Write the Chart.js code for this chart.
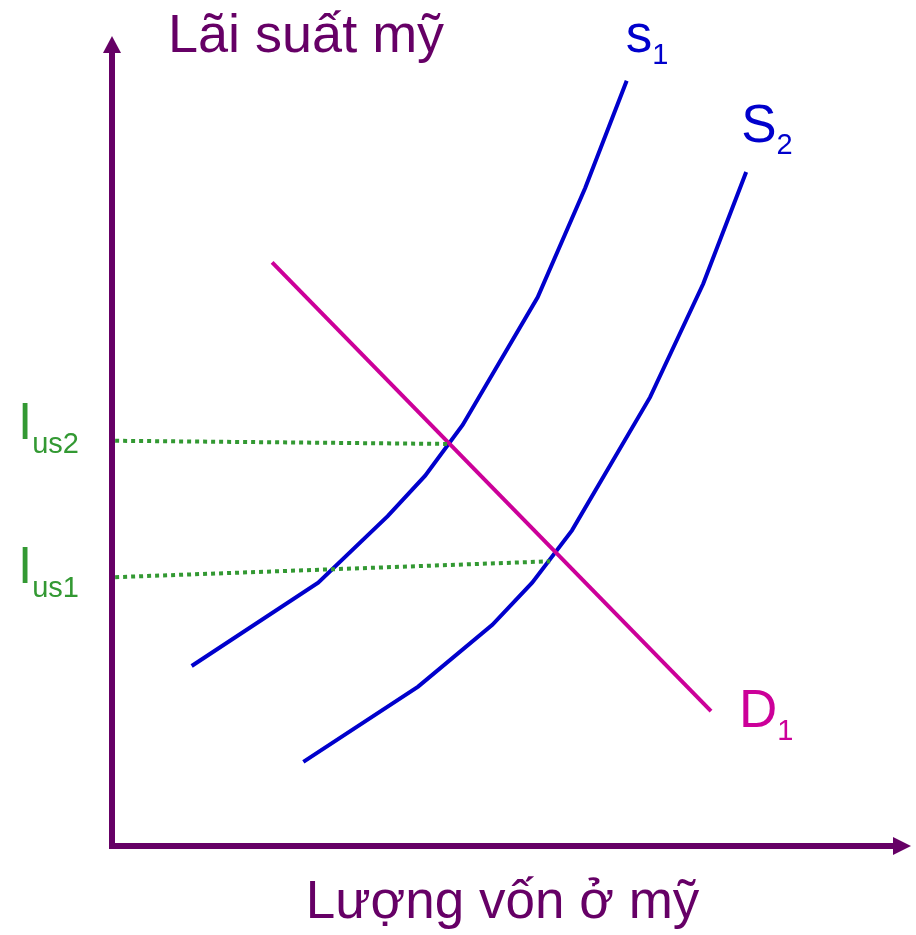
<!DOCTYPE html>
<html lang="vi">
<head>
<meta charset="utf-8">
<title>Lãi suất mỹ</title>
<script src="https://cdn.jsdelivr.net/npm/chart.js@4/dist/chart.umd.min.js"></script>
<style>
  html, body { margin: 0; padding: 0; background: #fff; }
  #wrap { width: 916px; height: 935px; }
</style>
</head>
<body>
<div id="wrap"><canvas id="chart" width="916" height="935"></canvas></div>
<script>
// values, both axes on a 0..100 scale
const s1X = [10.2, 26.4, 35.3, 40.1, 44.9, 54.5, 60.6, 65.9];
const s1Y = [22.7, 33.2, 41.6, 46.7, 53.1, 69.2, 83.0, 96.5];

const s2X = [24.5, 39.2, 48.7, 53.8, 58.9, 68.9, 75.7, 81.2];
const s2Y = [10.6, 20.1, 27.9, 33.2, 39.8, 56.6, 70.9, 85.0];

const d1X = [20.5, 76.7];
const d1Y = [73.6, 17.0];

const ius2X = [0.4, 43.1];
const ius2Y = [51.1, 50.7];
const ius1X = [0.4, 56.1];
const ius1Y = [33.9, 35.9];

const yTitle = 'Lãi suất mỹ';
const xTitle = 'Lượng vốn ở mỹ';

const PURPLE = '#660066';
const BLUE = '#0000CC';
const MAGENTA = '#CC0099';
const GREEN = '#339933';
const FONT = "'Liberation Sans', Arial, sans-serif";

function toPoints(xs, ys) {
  return xs.map((x, i) => ({ x, y: ys[i] }));
}

/**
 * Draw text with a subscript part
 */
function drawSub(ctx, main, sub, x, y, size, subSize, drop, color) {
  ctx.fillStyle = color;
  ctx.textBaseline = 'alphabetic';
  ctx.textAlign = 'left';
  ctx.font = `${size}px ${FONT}`;
  ctx.fillText(main, x, y);
  const w = ctx.measureText(main).width;
  ctx.font = `${subSize}px ${FONT}`;
  ctx.fillText(sub, x + w, y + drop);
}

// arrowheads, y title and curve labels
const annotations = {
  id: 'annotations',
  afterDraw(chart) {
    const { ctx, chartArea, scales } = chart;
    const xs = scales.x, ys = scales.y;
    const ox = xs.getPixelForValue(0);
    const oy = ys.getPixelForValue(0);
    ctx.save();

    ctx.fillStyle = PURPLE;
    ctx.beginPath();
    ctx.moveTo(ox, chartArea.top - 17);
    ctx.lineTo(ox - 9, chartArea.top);
    ctx.lineTo(ox + 9, chartArea.top);
    ctx.closePath();
    ctx.fill();

    ctx.beginPath();
    ctx.moveTo(chartArea.right + 18, oy);
    ctx.lineTo(chartArea.right, oy - 9);
    ctx.lineTo(chartArea.right, oy + 9);
    ctx.closePath();
    ctx.fill();

    ctx.font = `54px ${FONT}`;
    ctx.textBaseline = 'alphabetic';
    ctx.fillText(yTitle, 168, 52);

    const last = (xsArr, ysArr) => ({
      x: xs.getPixelForValue(xsArr[xsArr.length - 1]),
      y: ys.getPixelForValue(ysArr[ysArr.length - 1]),
    });
    const p1 = last(s1X, s1Y);
    drawSub(ctx, 's', '1', p1.x - 1, p1.y - 29, 53, 29, 12, BLUE);
    const p2 = last(s2X, s2Y);
    drawSub(ctx, 'S', '2', p2.x - 5, p2.y - 30, 53, 29, 12, BLUE);
    const p3 = last(d1X, d1Y);
    drawSub(ctx, 'D', '1', p3.x + 28, p3.y + 16, 53, 29, 13, MAGENTA);

    drawSub(ctx, 'I', 'us2', 18, ys.getPixelForValue(ius2Y[0]) - 2, 51, 29, 14, GREEN);
    drawSub(ctx, 'I', 'us1', 18, ys.getPixelForValue(ius1Y[0]) + 6, 51, 29, 14, GREEN);

    ctx.restore();
  },
};

const dotted = {
  borderColor: GREEN,
  borderWidth: 4,
  borderDash: [4, 4],
  borderCapStyle: 'butt',
};

new Chart(document.getElementById('chart'), {
  type: 'scatter',
  data: {
    datasets: [
      { label: 'Ius2', data: toPoints(ius2X, ius2Y), ...dotted },
      { label: 'Ius1', data: toPoints(ius1X, ius1Y), ...dotted },
      { label: 'D1', data: toPoints(d1X, d1Y), borderColor: MAGENTA, borderWidth: 4 },
      { label: 's1', data: toPoints(s1X, s1Y), borderColor: BLUE, borderWidth: 4 },
      { label: 'S2', data: toPoints(s2X, s2Y), borderColor: BLUE, borderWidth: 4 },
    ],
  },
  options: {
    responsive: false,
    animation: false,
    showLine: true,
    elements: {
      point: { radius: 0, hoverRadius: 0 },
      line: { tension: 0, fill: false },
    },
    layout: { padding: { left: 112, right: 23, top: 53, bottom: 0 } },
    plugins: {
      legend: { display: false },
      tooltip: { enabled: false },
    },
    scales: {
      x: {
        type: 'linear',
        min: 0,
        max: 100,
        grid: { display: false, drawTicks: false },
        ticks: { display: false },
        border: { display: true, color: PURPLE, width: 6 },
        title: {
          display: true,
          text: xTitle,
          color: PURPLE,
          font: { family: FONT, size: 53 },
          padding: { top: 0, bottom: 0 },
        },
        afterFit: (scale) => { scale.height = 89; },
      },
      y: {
        type: 'linear',
        min: 0,
        max: 100,
        grid: { display: false, drawTicks: false },
        ticks: { display: false },
        border: { display: true, color: PURPLE, width: 6 },
        afterFit: (scale) => { scale.width = 0; },
      },
    },
  },
  plugins: [annotations],
});
</script>
</body>
</html>
